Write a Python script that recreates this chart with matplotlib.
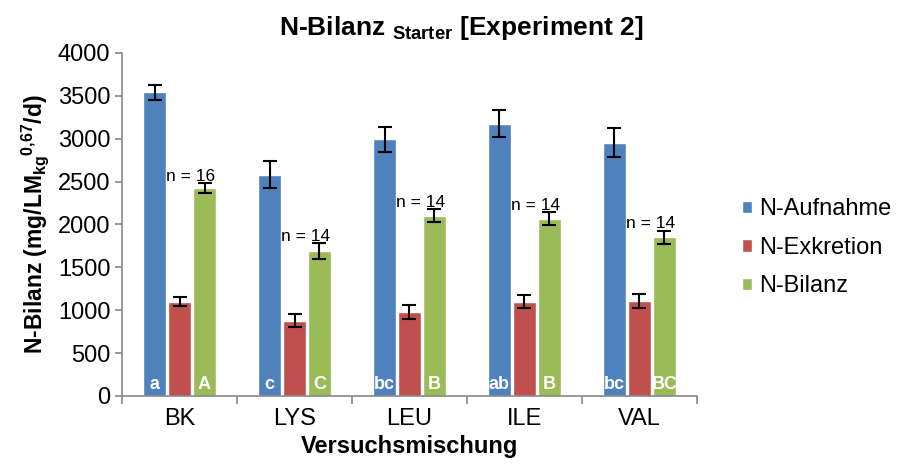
import numpy as np
import matplotlib.pyplot as plt

plt.rcParams['font.family'] = 'Liberation Sans'
plt.rcParams['mathtext.fontset'] = 'custom'
plt.rcParams['mathtext.rm'] = 'Liberation Sans'
plt.rcParams['mathtext.bf'] = 'Liberation Sans:bold'

groups = ['BK', 'LYS', 'LEU', 'ILE', 'VAL']
series = ['N-Aufnahme', 'N-Exkretion', 'N-Bilanz']
aufnahme = [3540, 2580, 2995, 3175, 2955]
aufnahme_err = [90, 160, 145, 155, 170]
exkretion = [1100, 875, 975, 1100, 1105]
exkretion_err = [50, 75, 80, 80, 80]
bilanz = [2425, 1690, 2100, 2065, 1848]
bilanz_err = [55, 90, 75, 75, 80]
n_labels = ['n = 16', 'n = 14', 'n = 14', 'n = 14', 'n = 14']
letters_auf = ['a', 'c', 'bc', 'ab', 'bc']
letters_bil = ['A', 'C', 'B', 'B', 'BC']

colors = ['#4F81BD', '#C0504D', '#9BBB59']

fig = plt.figure(figsize=(8.98, 4.73), dpi=100)
ax = fig.add_axes([0.136, 0.163, 0.640, 0.725])

x = np.arange(len(groups))
w = 0.2
off = 0.217
vals = [aufnahme, exkretion, bilanz]
errs = [aufnahme_err, exkretion_err, bilanz_err]
for i in range(3):
    ax.bar(x + (i - 1) * off, vals[i], w, color=colors[i], edgecolor='white',
           linewidth=1, label=series[i], zorder=2)
    ax.errorbar(x + (i - 1) * off, vals[i], yerr=errs[i], fmt='none',
                ecolor='black', elinewidth=1.5, capsize=4.7, capthick=1.5, zorder=3)

for j in range(len(groups)):
    ax.text(x[j] + off - 0.12, bilanz[j] + bilanz_err[j] + 25, n_labels[j],
            ha='center', va='baseline', fontsize=12.5, zorder=4)
    ax.text(x[j] - off, 30, letters_auf[j], ha='center', va='bottom',
            color='white', fontweight='bold', fontsize=13)
    ax.text(x[j] + off, 30, letters_bil[j], ha='center', va='bottom',
            color='white', fontweight='bold', fontsize=13)

ax.set_xlim(-0.5, 4.5)
ax.set_ylim(0, 4000)
ax.set_yticks(np.arange(0, 4001, 500))
ax.set_xticks(x)
ax.set_xticklabels(groups)
ax.set_xticks(np.arange(-0.5, 4.6, 1), minor=True)
ax.tick_params(axis='x', which='major', length=0, pad=9, labelsize=17)
ax.tick_params(axis='x', which='minor', length=6, color='#888888', width=1.2)
ax.tick_params(axis='y', length=5, color='#888888', width=1.2, labelsize=17)

for s in ['top', 'right']:
    ax.spines[s].set_visible(False)
for s in ['left', 'bottom']:
    ax.spines[s].set_color('#888888')
    ax.spines[s].set_linewidth(1.2)

ax.set_xlabel('Versuchsmischung', fontsize=17, fontweight='bold', labelpad=3)
ax.set_ylabel(r'N-Bilanz (mg/LM$\mathbf{_{kg}}$$\mathbf{^{0{,}67}}$/d)',
              fontsize=16.5, fontweight='bold', labelpad=5)

fig.text(0.513, 0.94, r'N-Bilanz $\mathbf{_{Starter}}$ [Experiment 2]',
         ha='center', va='center', fontsize=19, fontweight='bold')

fig.legend(*ax.get_legend_handles_labels(), loc='center left',
           bbox_to_anchor=(0.826, 0.476), frameon=False, fontsize=17,
           handlelength=0.42, handleheight=0.42, handletextpad=0.3,
           labelspacing=0.7, borderpad=0, borderaxespad=0)

fig.savefig('out.png', dpi=100)
